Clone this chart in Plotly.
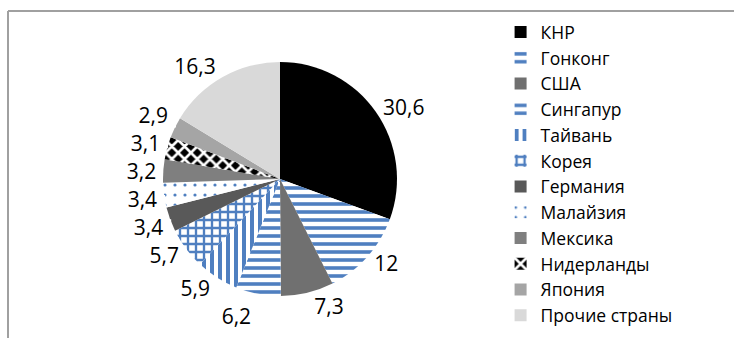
import plotly.graph_objects as go

countries = ["КНР", "Гонконг", "США", "Сингапур", "Тайвань", "Корея",
             "Германия", "Малайзия", "Мексика", "Нидерланды", "Япония", "Прочие страны"]
values = [30.6, 12, 7.3, 6.2, 5.9, 5.7, 3.4, 3.4, 3.2, 3.1, 2.9, 16.3]

BLUE = "#4f7fc0"
colors = ["#000000", BLUE, "#707070", BLUE, BLUE, BLUE,
          "#595959", BLUE, "#7f7f7f", "#000000", "#a5a5a5", "#d9d9d9"]
fgcolors = ["#000000", BLUE, "#707070", BLUE, BLUE, BLUE,
            "#595959", BLUE, "#7f7f7f", "#ffffff", "#a5a5a5", "#d9d9d9"]
bgcolors = ["#000000", "#ffffff", "#707070", "#ffffff", "#ffffff", "#ffffff",
            "#595959", "#ffffff", "#7f7f7f", "#000000", "#a5a5a5", "#d9d9d9"]
shapes_p = ["", "-", "", "-", "|", "+", "", ".", "", "x", "", ""]
sizes = [8, 8, 8, 8, 8, 8, 8, 10, 8, 9, 8, 8]
solid = [0.3, 0.45, 0.3, 0.45, 0.5, 0.5, 0.3, 0.08, 0.3, 0.5, 0.3, 0.3]

labels_txt = [str(v).replace(".", ",") for v in values]

W, H = 734, 338
cx, cy, r = 280, 179, 117

fig = go.Figure(go.Pie(
    labels=countries,
    values=values,
    text=labels_txt,
    textinfo="text",
    texttemplate="<span style='color:#000000'>%{text}</span>",
    textposition="outside",
    sort=False,
    direction="clockwise",
    rotation=0,
    marker=dict(colors=colors,
                line=dict(width=0),
                pattern=dict(shape=shapes_p, fgcolor=fgcolors, bgcolor=bgcolors,
                             size=sizes, solidity=solid, fillmode="replace")),
    outsidetextfont=dict(size=21, color="#ffffff", family="Open Sans"),
    domain=dict(x=[(cx - r) / W, (cx + r) / W],
                y=[(H - cy - r) / H, (H - cy + r) / H]),
    hoverinfo="label+value",
))

fig.update_layout(
    width=W, height=H,
    margin=dict(l=0, r=0, t=0, b=0),
    paper_bgcolor="white",
    font=dict(family="Open Sans", size=17.5, color="#000000"),
    legend=dict(x=0.682, y=0.958, xanchor="left", yanchor="top",
                font=dict(size=17.5, color="#000000"), bgcolor="rgba(0,0,0,0)",
                itemwidth=30),
    shapes=[
        dict(type="line", xref="paper", yref="paper", x0=8 / W, x1=1, y0=1 - 11 / H, y1=1 - 11 / H,
             line=dict(color="#a0a0a0", width=2)),
        dict(type="line", xref="paper", yref="paper", x0=8 / W, x1=8 / W, y0=0, y1=1 - 11 / H,
             line=dict(color="#a0a0a0", width=2)),
    ],
)

fig.write_html("out.html")
